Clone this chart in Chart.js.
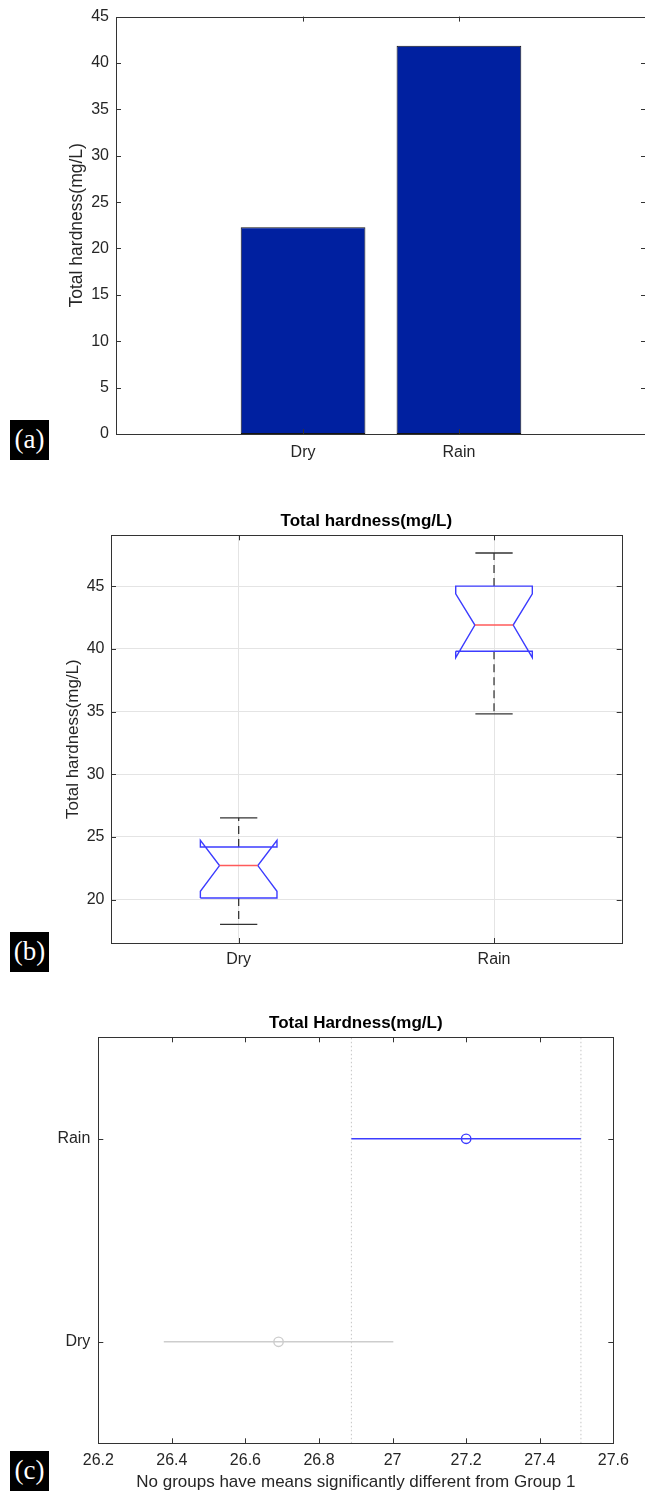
<!DOCTYPE html>
<html>
<head>
<meta charset="utf-8">
<script src="https://cdn.jsdelivr.net/npm/chart.js@4.4.1/dist/chart.umd.min.js"></script>
<style>
  html, body { margin: 0; padding: 0; background: #fff; overflow: hidden; }
  #page { position: relative; width: 645px; height: 1495px; overflow: hidden; background: #fff; }
  canvas { position: absolute; left: 0; }
  .tag {
    position: absolute; left: 10px; width: 39px; height: 40px;
    background: #000; color: #fff;
    font-family: 'Liberation Serif', 'Times New Roman', serif;
    font-size: 27px; line-height: 38px; text-align: center;
  }
</style>
</head>
<body>
<div id="page">
  <canvas id="barChart" width="650" height="478" style="top:0px"></canvas>
  <canvas id="boxChart" width="645" height="500" style="top:478px"></canvas>
  <canvas id="compareChart" width="645" height="517" style="top:978px"></canvas>
  <div class="tag" style="top:420px">(a)</div>
  <div class="tag" style="top:932px">(b)</div>
  <div class="tag" style="top:1451px">(c)</div>
</div>
<script>
// ---- (a) mean total hardness per season ----
const categories = ['Dry', 'Rain'];
const meanHardness = [22.3, 41.85];
const barTicks = [0, 5, 10, 15, 20, 25, 30, 35, 40, 45];

// ---- (b) box plot statistics ----
const boxGroups = ['Dry', 'Rain'];
const whiskerLow = [18.03, 34.81];
const quartile1 = [20.14, 39.81];
const notchLow = [20.67, 39.30];
const medians = [22.72, 41.89];
const notchHigh = [24.74, 44.39];
const quartile3 = [24.20, 45.00];
const whiskerHigh = [26.53, 47.64];
const boxTicks = [20, 25, 30, 35, 40, 45];

// ---- (c) multiple comparison of group means ----
const compareGroups = ['Dry', 'Rain'];
const groupMeans = [26.69, 27.20];
const intervalLow = [26.378, 26.888];
const intervalHigh = [27.002, 27.512];
const compareTicks = [26.2, 26.4, 26.6, 26.8, 27.0, 27.2, 27.4, 27.6];
const compareTickLabels = ['26.2', '26.4', '26.6', '26.8', '27', '27.2', '27.4', '27.6'];
const selectedGroup = 1;

Chart.defaults.font.family = "'Liberation Sans', Arial, Helvetica, sans-serif";
Chart.defaults.color = '#262626';

const AXIS_COLOR = '#333333';
const BLUE = '#3c3cff';
const RED = '#ff5a5a';

// Box outline with inward tick marks on all four sides
const boxFrame = {
  id: 'boxFrame',
  afterDatasetsDraw(chart) {
    const { ctx, chartArea: a, scales } = chart;
    const len = 5;
    ctx.save();
    ctx.strokeStyle = AXIS_COLOR;
    ctx.lineWidth = 1;
    ctx.beginPath();
    scales.x.ticks.forEach(t => {
      const px = Math.round(scales.x.getPixelForValue(t.value)) + 0.5;
      ctx.moveTo(px, a.bottom); ctx.lineTo(px, a.bottom - len);
      ctx.moveTo(px, a.top); ctx.lineTo(px, a.top + len);
    });
    scales.y.ticks.forEach(t => {
      const py = Math.round(scales.y.getPixelForValue(t.value)) + 0.5;
      ctx.moveTo(a.left, py); ctx.lineTo(a.left + len, py);
      ctx.moveTo(a.right, py); ctx.lineTo(a.right - len, py);
    });
    ctx.stroke();
    ctx.strokeRect(Math.round(a.left) + 0.5, Math.round(a.top) + 0.5,
                   Math.round(a.right - a.left), Math.round(a.bottom - a.top));
    ctx.restore();
  }
};

const baseOptions = {
  responsive: false,
  animation: false,
  devicePixelRatio: 1,
  events: []
};

const tickFont = { size: 16 };

// ---------- (a) bar chart ----------
new Chart(document.getElementById('barChart'), {
  type: 'bar',
  data: {
    datasets: [{
      data: categories.map((c, i) => ({ x: i + 1, y: meanHardness[i] })),
      backgroundColor: '#0020a0',
      borderColor: '#141414',
      borderWidth: 1,
      borderSkipped: false,
      barPercentage: 0.8,
      categoryPercentage: 1
    }]
  },
  options: {
    ...baseOptions,
    layout: { padding: { top: 15, right: 4, bottom: 14, left: 0 } },
    plugins: { legend: { display: false }, tooltip: { enabled: false } },
    scales: {
      x: {
        type: 'linear', min: -0.2, max: 3.2, offset: false,
        grid: { display: false, drawTicks: false }, border: { display: false },
        afterBuildTicks: s => { s.ticks = categories.map((c, i) => ({ value: i + 1 })); },
        ticks: { autoSkip: false, maxRotation: 0, padding: 8.5, font: tickFont,
                 callback: (v, i) => categories[i] },
        afterFit: s => { s.height = 30; }
      },
      y: {
        min: 0, max: 45,
        grid: { display: false, drawTicks: false }, border: { display: false },
        afterBuildTicks: s => { s.ticks = barTicks.map(v => ({ value: v })); },
        ticks: { padding: 7, font: tickFont },
        title: { display: true, text: 'Total hardness(mg/L)', font: { size: 17.5 },
                 padding: { top: 66.5, bottom: 0 } },
        afterFit: s => { s.width = 116; }
      }
    }
  },
  plugins: [boxFrame]
});

// ---------- (b) notched box plot ----------
const BOX_HALF = 0.15, NOTCH_HALF = 0.075, CAP_HALF = 0.073;
const segment = (pts, color, width, dash) => ({
  data: pts, showLine: true, borderColor: color, borderWidth: width,
  borderDash: dash || [], pointRadius: 0, fill: false, tension: 0
});

const medianSets = [], outlineSets = [], capSets = [], whiskerSets = [];
boxGroups.forEach((g, i) => {
  const x = i + 1;
  outlineSets.push(segment([
    { x: x - BOX_HALF, y: quartile1[i] },
    { x: x - BOX_HALF, y: notchLow[i] },
    { x: x - NOTCH_HALF, y: medians[i] },
    { x: x - BOX_HALF, y: notchHigh[i] },
    { x: x - BOX_HALF, y: quartile3[i] },
    { x: x + BOX_HALF, y: quartile3[i] },
    { x: x + BOX_HALF, y: notchHigh[i] },
    { x: x + NOTCH_HALF, y: medians[i] },
    { x: x + BOX_HALF, y: notchLow[i] },
    { x: x + BOX_HALF, y: quartile1[i] },
    { x: x - BOX_HALF, y: quartile1[i] }
  ], BLUE, 1.4));
  medianSets.push(segment([
    { x: x - NOTCH_HALF, y: medians[i] },
    { x: x + NOTCH_HALF, y: medians[i] }
  ], RED, 1.5));
  capSets.push(segment([{ x: x - CAP_HALF, y: whiskerHigh[i] }, { x: x + CAP_HALF, y: whiskerHigh[i] }], '#333333', 1.3));
  capSets.push(segment([{ x: x - CAP_HALF, y: whiskerLow[i] }, { x: x + CAP_HALF, y: whiskerLow[i] }], '#333333', 1.3));
  whiskerSets.push(segment([{ x: x, y: quartile3[i] }, { x: x, y: whiskerHigh[i] }], '#3a3a3a', 1.3, [8, 5]));
  whiskerSets.push(segment([{ x: x, y: quartile1[i] }, { x: x, y: whiskerLow[i] }], '#3a3a3a', 1.3, [8, 5]));
});

new Chart(document.getElementById('boxChart'), {
  type: 'scatter',
  data: { datasets: [...medianSets, ...outlineSets, ...capSets, ...whiskerSets] },
  options: {
    ...baseOptions,
    layout: { padding: { top: 0, right: 23.3, bottom: 3, left: 0 } },
    plugins: {
      legend: { display: false }, tooltip: { enabled: false },
      title: { display: true, fullSize: false, text: 'Total hardness(mg/L)', color: '#000',
               font: { size: 17, weight: 'bold' }, padding: { top: 33.5, bottom: 3.4 } }
    },
    scales: {
      x: {
        type: 'linear', min: 0.5, max: 2.5,
        grid: { color: '#e4e4e4', drawTicks: false }, border: { display: false },
        afterBuildTicks: s => { s.ticks = boxGroups.map((g, i) => ({ value: i + 1 })); },
        ticks: { autoSkip: false, maxRotation: 0, padding: 7, font: tickFont,
                 callback: (v, i) => boxGroups[i] },
        afterFit: s => { s.height = 32; }
      },
      y: {
        min: 16.55, max: 49.05,
        grid: { color: '#e4e4e4', drawTicks: false }, border: { display: false },
        afterBuildTicks: s => { s.ticks = boxTicks.map(v => ({ value: v })); },
        ticks: { padding: 6.5, font: tickFont },
        title: { display: true, text: 'Total hardness(mg/L)', font: { size: 17 },
                 padding: { top: 63.6, bottom: 0 } },
        afterFit: s => { s.width = 111; }
      }
    }
  },
  plugins: [boxFrame]
});

// ---------- (c) comparison intervals ----------
const GREY = '#cdcdcd';
const intervalSets = [], markerSets = [];
compareGroups.forEach((g, i) => {
  const y = i + 1;
  const color = i === selectedGroup ? BLUE : GREY;
  markerSets.push({
    data: [{ x: groupMeans[i], y: y }], showLine: false,
    pointStyle: 'circle', pointRadius: 4.7, pointBorderWidth: 1.4,
    pointBorderColor: color, pointBackgroundColor: 'rgba(255,255,255,0)'
  });
  intervalSets.push(segment([{ x: intervalLow[i], y: y }, { x: intervalHigh[i], y: y }], color, 1.5));
});
// dotted limits of the selected group's interval
const limitSets = [intervalLow[selectedGroup], intervalHigh[selectedGroup]].map(v =>
  segment([{ x: v, y: 0.5 }, { x: v, y: compareGroups.length + 0.5 }], '#c4c4c4', 1, [1.5, 2.5]));

new Chart(document.getElementById('compareChart'), {
  type: 'scatter',
  data: { datasets: [...markerSets.slice().reverse(), ...intervalSets.slice().reverse(), ...limitSets] },
  options: {
    ...baseOptions,
    layout: { padding: { top: 0, right: 31.7, bottom: 2.4, left: 0 } },
    plugins: {
      legend: { display: false }, tooltip: { enabled: false },
      title: { display: true, fullSize: false, text: 'Total Hardness(mg/L)', color: '#000',
               font: { size: 17, weight: 'bold' }, padding: { top: 34.8, bottom: 4.1 } }
    },
    scales: {
      x: {
        type: 'linear', min: 26.2, max: 27.6,
        grid: { display: false, drawTicks: false }, border: { display: false },
        afterBuildTicks: s => { s.ticks = compareTicks.map(v => ({ value: v })); },
        ticks: { autoSkip: false, maxRotation: 0, padding: 7.5, font: tickFont,
                 callback: (v, i) => compareTickLabels[i] },
        title: { display: true, text: 'No groups have means significantly different from Group 1',
                 font: { size: 17 }, padding: { top: 0, bottom: 0 } },
        afterFit: s => { s.height = 49.3; }
      },
      y: {
        min: 0.5, max: compareGroups.length + 0.5,
        grid: { display: false, drawTicks: false }, border: { display: false },
        afterBuildTicks: s => { s.ticks = compareGroups.map((g, i) => ({ value: i + 1 })); },
        ticks: { padding: 8, font: tickFont, callback: (v, i) => compareGroups[i] },
        afterFit: s => { s.width = 98.3; }
      }
    }
  },
  plugins: [boxFrame]
});
</script>
</body>
</html>
